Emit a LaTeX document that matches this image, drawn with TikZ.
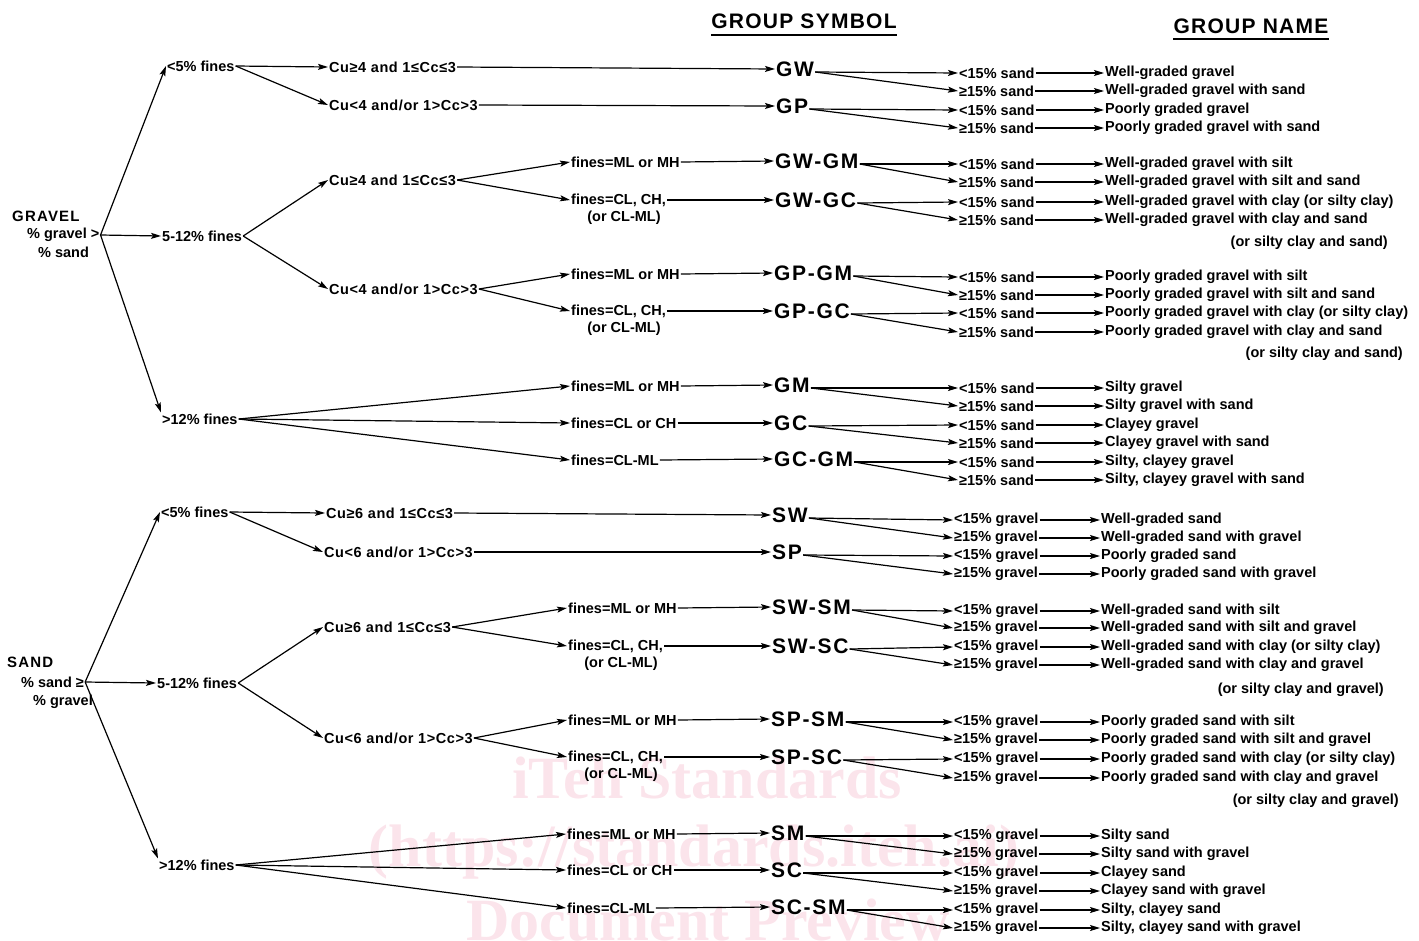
\documentclass[tikz,border=0pt]{standalone}
\usepackage{fontspec}
\setmainfont{Liberation Sans}
\newfontfamily\wmfont{Liberation Serif}
\usetikzlibrary{arrows.meta}
\definecolor{wmpink}{RGB}{251,228,235}
% right-hand part: #1 symbol node, #2 id, #3 y1, #4 y2, #5 cond1, #6 cond2, #7 name1, #8 name2
\newcommand\rside[8]{%
  \node[txt,anchor=west] (#2a) at (\xc,#3) {#5};
  \node[txt,anchor=west] (#2b) at (\xc,#4) {#6};
  \node[txt,anchor=west] (#2na) at (\xn,#3) {#7};
  \node[txt,anchor=west] (#2nb) at (\xn,#4) {#8};
  \draw[arr] ([yshift=-3pt]#1.east) -- (#2a.west);
  \draw[arr] ([yshift=-3pt]#1.east) -- (#2b.west);
  \draw[arr] (#2a.east) -- (#2na.west);
  \draw[arr] (#2b.east) -- (#2nb.west);
}
\begin{document}
\begin{tikzpicture}[x=1pt,y=-1pt,
  txt/.style={font=\fontsize{14.5}{16}\selectfont\bfseries, inner sep=1pt},
  cu/.style={font=\fontsize{14.5}{16}\selectfont\bfseries\addfontfeature{LetterSpace=4}, inner sep=1pt},
  symb/.style={font=\fontsize{21}{24}\selectfont\bfseries\addfontfeature{LetterSpace=8}, inner sep=1pt},
  ttl/.style={font=\fontsize{21}{24}\selectfont\bfseries\addfontfeature{LetterSpace=6}, inner sep=0pt},
  big/.style={font=\fontsize{15}{17}\selectfont\bfseries\addfontfeature{LetterSpace=8}, inner sep=1pt},
  arr/.style={line width=1.2pt, -{Stealth[length=10pt,width=6pt,inset=2pt]}},
  wm/.style={font=\wmfont\fontsize{60}{60}\selectfont\bfseries, text=wmpink, inner sep=0pt}]
\useasboundingbox (0,0) rectangle (1419,940);
% watermark
\node[wm] (wm1) at (707,778) {iTeh Standards};
\node[wm] (wm2) at (694,852) {(https://standards.iteh.ai)};
\node[wm] (wm3) at (708,920) {Document Preview};
% titles
\node[ttl,anchor=base] (t1) at (804,28) {GROUP SYMBOL};
\node[ttl,anchor=base] (t2) at (1251,33) {GROUP NAME};
\draw[line width=1.5pt] ([yshift=-7pt]t1.base west) -- ([yshift=-7pt]t1.base east);
\draw[line width=1.5pt] ([yshift=-6pt]t2.base west) -- ([yshift=-6pt]t2.base east);

% ================= GRAVEL =================
\node[big,anchor=west] (gravel) at (11,216) {GRAVEL};
\node[txt,anchor=west] (gpct) at (26,235) {\% gravel >};
\node[txt,anchor=west] (gsand) at (37,252) {\% sand};
\node[txt,anchor=west] (g5) at (166,66) {<5\% fines};
\node[txt,anchor=west] (g512) at (161,236) {5-12\% fines};
\node[txt,anchor=west] (g12) at (161,419) {>12\% fines};
\draw[arr] (gpct.east) -- (g5.west);
\draw[arr] (gpct.east) -- (g512.west);
\draw[arr] (gpct.east) -- (g12.north west);
% <5%
\node[cu,anchor=west] (gcu1) at (328,67) {Cu≥4 and 1≤Cc≤3};
\node[cu,anchor=west] (gcu2) at (328,105) {Cu<4 and/or 1>Cc>3};
\draw[arr] (g5.east) -- (gcu1.west);
\draw[arr] (g5.east) -- (gcu2.west);
\node[symb,anchor=west] (GW) at (775,69) {GW};
\node[symb,anchor=west] (GP) at (775,106) {GP};
\draw[arr] (gcu1.east) -- (GW.west);
\draw[arr] (gcu2.east) -- (GP.west);
% 5-12%
\node[cu,anchor=west] (gcu3) at (328,180) {Cu≥4 and 1≤Cc≤3};
\node[cu,anchor=west] (gcu4) at (328,289) {Cu<4 and/or 1>Cc>3};
\draw[arr] (g512.east) -- (gcu3.west);
\draw[arr] (g512.east) -- (gcu4.west);
\node[txt,anchor=west] (gf1) at (570,162) {fines=ML or MH};
\node[txt,anchor=west] (gf2) at (570,200) {fines=CL, CH,};
\node[txt] (gf2b) at (624,218) {(or CL-ML)};
\draw[arr] (gcu3.east) -- (gf1.west);
\draw[arr] (gcu3.east) -- (gf2.west);
\node[symb,anchor=west] (GWGM) at (774,161) {GW-GM};
\node[symb,anchor=west] (GWGC) at (774,200) {GW-GC};
\draw[arr] (gf1.east) -- (GWGM.west);
\draw[arr] (gf2.east) -- (GWGC.west);
\node[txt,anchor=west] (gf3) at (570,274) {fines=ML or MH};
\node[txt,anchor=west] (gf4) at (570,311) {fines=CL, CH,};
\node[txt] (gf4b) at (624,329) {(or CL-ML)};
\draw[arr] (gcu4.east) -- (gf3.west);
\draw[arr] (gcu4.east) -- (gf4.west);
\node[symb,anchor=west] (GPGM) at (773,273) {GP-GM};
\node[symb,anchor=west] (GPGC) at (773,311) {GP-GC};
\draw[arr] (gf3.east) -- (GPGM.west);
\draw[arr] (gf4.east) -- (GPGC.west);
% >12%
\node[txt,anchor=west] (gf5) at (570,386) {fines=ML or MH};
\node[txt,anchor=west] (gf6) at (570,423) {fines=CL or CH};
\node[txt,anchor=west] (gf7) at (570,460) {fines=CL-ML};
\draw[arr] (g12.east) -- (gf5.west);
\draw[arr] (g12.east) -- (gf6.west);
\draw[arr] (g12.east) -- (gf7.west);
\node[symb,anchor=west] (GM) at (773,385) {GM};
\node[symb,anchor=west] (GC) at (773,423) {GC};
\node[symb,anchor=west] (GCGM) at (773,459) {GC-GM};
\draw[arr] (gf5.east) -- (GM.west);
\draw[arr] (gf6.east) -- (GC.west);
\draw[arr] (gf7.east) -- (GCGM.west);
% right side gravel
\def\xc{958}\def\xn{1104}
\rside{GW}{rgw}{73}{91}{<15\% sand}{≥15\% sand}{Well-graded gravel}{Well-graded gravel with sand}
\rside{GP}{rgp}{110}{128}{<15\% sand}{≥15\% sand}{Poorly graded gravel}{Poorly graded gravel with sand}
\rside{GWGM}{rgwgm}{164}{182}{<15\% sand}{≥15\% sand}{Well-graded gravel with silt}{Well-graded gravel with silt and sand}
\rside{GWGC}{rgwgc}{202}{220}{<15\% sand}{≥15\% sand}{Well-graded gravel with clay (or silty clay)}{Well-graded gravel with clay and sand}
\node[txt,anchor=east] (pg1) at (1389,243) {(or silty clay and sand)};
\rside{GPGM}{rgpgm}{277}{295}{<15\% sand}{≥15\% sand}{Poorly graded gravel with silt}{Poorly graded gravel with silt and sand}
\rside{GPGC}{rgpgc}{313}{332}{<15\% sand}{≥15\% sand}{Poorly graded gravel with clay (or silty clay)}{Poorly graded gravel with clay and sand}
\node[txt,anchor=east] (pg2) at (1404,354) {(or silty clay and sand)};
\rside{GM}{rgm}{388}{406}{<15\% sand}{≥15\% sand}{Silty gravel}{Silty gravel with sand}
\rside{GC}{rgc}{425}{443}{<15\% sand}{≥15\% sand}{Clayey gravel}{Clayey gravel with sand}
\rside{GCGM}{rgcgm}{462}{480}{<15\% sand}{≥15\% sand}{Silty, clayey gravel}{Silty, clayey gravel with sand}

% ================= SAND =================
\node[big,anchor=west] (sand) at (6,662) {SAND};
\node[txt,anchor=west] (spct) at (20,682) {\% sand ≥};
\node[txt,anchor=west] (sgrav) at (32,702) {\% gravel};
\node[txt,anchor=west] (s5) at (160,512) {<5\% fines};
\node[txt,anchor=west] (s512) at (156,683) {5-12\% fines};
\node[txt,anchor=west] (s12) at (158,865) {>12\% fines};
\draw[arr] (spct.east) -- (s5.west);
\draw[arr] (spct.east) -- (s512.west);
\draw[arr] (spct.east) -- (s12.north west);
% <5%
\node[cu,anchor=west] (scu1) at (325,513) {Cu≥6 and 1≤Cc≤3};
\node[cu,anchor=west] (scu2) at (323,552) {Cu<6 and/or 1>Cc>3};
\draw[arr] (s5.east) -- (scu1.west);
\draw[arr] (s5.east) -- (scu2.west);
\node[symb,anchor=west] (SW) at (771,515) {SW};
\node[symb,anchor=west] (SP) at (771,552) {SP};
\draw[arr] (scu1.east) -- (SW.west);
\draw[arr] (scu2.east) -- (SP.west);
% 5-12%
\node[cu,anchor=west] (scu3) at (323,627) {Cu≥6 and 1≤Cc≤3};
\node[cu,anchor=west] (scu4) at (323,738) {Cu<6 and/or 1>Cc>3};
\draw[arr] (s512.east) -- (scu3.west);
\draw[arr] (s512.east) -- (scu4.west);
\node[txt,anchor=west] (sf1) at (567,608) {fines=ML or MH};
\node[txt,anchor=west] (sf2) at (567,646) {fines=CL, CH,};
\node[txt] (sf2b) at (621,664) {(or CL-ML)};
\draw[arr] (scu3.east) -- (sf1.west);
\draw[arr] (scu3.east) -- (sf2.west);
\node[symb,anchor=west] (SWSM) at (771,607) {SW-SM};
\node[symb,anchor=west] (SWSC) at (771,646) {SW-SC};
\draw[arr] (sf1.east) -- (SWSM.west);
\draw[arr] (sf2.east) -- (SWSC.west);
\node[txt,anchor=west] (sf3) at (567,720) {fines=ML or MH};
\node[txt,anchor=west] (sf4) at (567,757) {fines=CL, CH,};
\node[txt] (sf4b) at (621,775) {(or CL-ML)};
\draw[arr] (scu4.east) -- (sf3.west);
\draw[arr] (scu4.east) -- (sf4.west);
\node[symb,anchor=west] (SPSM) at (770,719) {SP-SM};
\node[symb,anchor=west] (SPSC) at (770,757) {SP-SC};
\draw[arr] (sf3.east) -- (SPSM.west);
\draw[arr] (sf4.east) -- (SPSC.west);
% >12%
\node[txt,anchor=west] (sf5) at (566,834) {fines=ML or MH};
\node[txt,anchor=west] (sf6) at (566,870) {fines=CL or CH};
\node[txt,anchor=west] (sf7) at (566,908) {fines=CL-ML};
\draw[arr] (s12.east) -- (sf5.west);
\draw[arr] (s12.east) -- (sf6.west);
\draw[arr] (s12.east) -- (sf7.west);
\node[symb,anchor=west] (SM) at (770,833) {SM};
\node[symb,anchor=west] (SC) at (770,870) {SC};
\node[symb,anchor=west] (SCSM) at (770,907) {SC-SM};
\draw[arr] (sf5.east) -- (SM.west);
\draw[arr] (sf6.east) -- (SC.west);
\draw[arr] (sf7.east) -- (SCSM.west);
% right side sand
\def\xc{953}\def\xn{1100}
\rside{SW}{rsw}{520}{538}{<15\% gravel}{≥15\% gravel}{Well-graded sand}{Well-graded sand with gravel}
\rside{SP}{rsp}{556}{574}{<15\% gravel}{≥15\% gravel}{Poorly graded sand}{Poorly graded sand with gravel}
\rside{SWSM}{rswsm}{611}{628}{<15\% gravel}{≥15\% gravel}{Well-graded sand with silt}{Well-graded sand with silt and gravel}
\rside{SWSC}{rswsc}{647}{665}{<15\% gravel}{≥15\% gravel}{Well-graded sand with clay (or silty clay)}{Well-graded sand with clay and gravel}
\node[txt,anchor=east] (ps1) at (1385,690) {(or silty clay and gravel)};
\rside{SPSM}{rspsm}{722}{740}{<15\% gravel}{≥15\% gravel}{Poorly graded sand with silt}{Poorly graded sand with silt and gravel}
\rside{SPSC}{rspsc}{759}{778}{<15\% gravel}{≥15\% gravel}{Poorly graded sand with clay (or silty clay)}{Poorly graded sand with clay and gravel}
\node[txt,anchor=east] (ps2) at (1400,801) {(or silty clay and gravel)};
\rside{SM}{rsm}{836}{854}{<15\% gravel}{≥15\% gravel}{Silty sand}{Silty sand with gravel}
\rside{SC}{rsc}{873}{891}{<15\% gravel}{≥15\% gravel}{Clayey sand}{Clayey sand with gravel}
\rside{SCSM}{rscsm}{910}{928}{<15\% gravel}{≥15\% gravel}{Silty, clayey sand}{Silty, clayey sand with gravel}
\end{tikzpicture}
\end{document}
